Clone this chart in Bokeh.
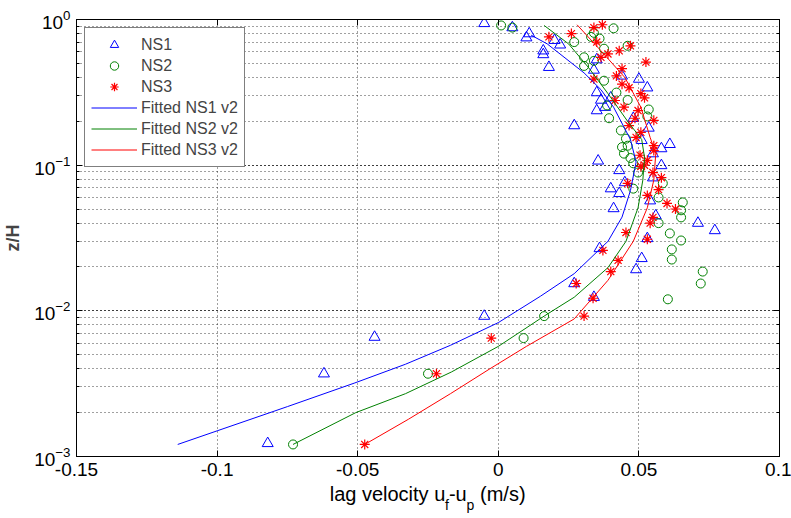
from bokeh.plotting import figure
from bokeh.models import (FixedTicker, LogTicker, LinearAxis, LogAxis, Legend, LegendItem,
                          Range1d, AllLabels)
from bokeh.embed import file_html
from bokeh.resources import INLINE

# ---------------- data ----------------
ns1_x = [-0.005, 0.005, 0.011, 0.010, 0.020, 0.022, 0.016, 0.016, 0.018, 0.035, 0.034, 0.050,
         0.053, 0.035, 0.040, 0.0365, 0.038, 0.035, 0.044, 0.048, 0.0535, 0.027, 0.051, 0.061,
         0.058, 0.055, 0.0355, 0.058, 0.043, 0.055, 0.045, 0.040, 0.043, 0.041, 0.054, 0.056,
         0.071, 0.077, 0.053, 0.036, 0.051, 0.049, 0.027, 0.034, -0.005, -0.044, -0.062, -0.082]
ns1_z = [0.94, 0.88, 0.80, 0.75, 0.72, 0.67, 0.61, 0.575, 0.47, 0.53, 0.45, 0.39,
         0.34, 0.315, 0.29, 0.28, 0.25, 0.237, 0.41, 0.21, 0.18, 0.187, 0.148, 0.139,
         0.130, 0.120, 0.107, 0.0995, 0.092, 0.082, 0.076, 0.069, 0.064, 0.0504, 0.057, 0.045,
         0.040, 0.0356, 0.0314, 0.0268, 0.0229, 0.0192, 0.0154, 0.0124, 0.0092, 0.0066, 0.0037, 0.00123]

ns2_x = [0.001, 0.005, 0.041, 0.034, 0.033, 0.036, 0.027, 0.046, 0.0376, 0.0305, 0.0305, 0.034,
         0.0376, 0.042, 0.046, 0.0387, 0.0535, 0.053, 0.0394, 0.0436, 0.0454, 0.044, 0.0447, 0.048,
         0.046, 0.047, 0.0497, 0.048, 0.0585, 0.057, 0.0656, 0.065, 0.065, 0.057, 0.061, 0.065,
         0.0617, 0.0617, 0.0727, 0.072, 0.0603, 0.0163, 0.009, -0.025, -0.073]
ns2_z = [0.91, 0.88, 0.87, 0.81, 0.76, 0.74, 0.70, 0.66, 0.63, 0.55, 0.48, 0.52,
         0.38, 0.315, 0.28, 0.257, 0.241, 0.216, 0.21, 0.173, 0.152, 0.133, 0.120, 0.103,
         0.136, 0.112, 0.089, 0.069, 0.075, 0.060, 0.0555, 0.049, 0.0438, 0.040, 0.034, 0.0304,
         0.0264, 0.0225, 0.0186, 0.0154, 0.012, 0.0092, 0.0065, 0.0037, 0.00121]

ns3_x = [0.037, 0.034, 0.026, 0.018, 0.035, 0.047, 0.043, 0.039, 0.0365, 0.0525, 0.044, 0.042,
         0.034, 0.044, 0.0465, 0.0507, 0.052, 0.0415, 0.0447, 0.0497, 0.0486, 0.0553, 0.0465, 0.0507,
         0.049, 0.0553, 0.0553, 0.0504, 0.052,
         0.053, 0.0507, 0.055, 0.058, 0.046, 0.057, 0.053, 0.060, 0.063, 0.055, 0.054, 0.0454,
         0.053, 0.0372, 0.0426, 0.040, 0.0277, 0.0337, 0.0305,
         -0.0025, -0.022, -0.0475]
ns3_z = [0.92, 0.88, 0.80, 0.76, 0.70, 0.66, 0.61, 0.58, 0.55, 0.51, 0.46, 0.41,
         0.39, 0.36, 0.34, 0.31, 0.29, 0.278, 0.25, 0.237, 0.21, 0.203, 0.187, 0.168,
         0.155, 0.136, 0.126, 0.117, 0.10,
         0.108, 0.098, 0.089, 0.082, 0.075, 0.068, 0.062, 0.0546, 0.050, 0.0438, 0.040, 0.0345,
         0.031, 0.026, 0.0222, 0.0186, 0.0154, 0.0122, 0.0092,
         0.0065, 0.0037, 0.00121]

fit1_x = [-0.114, -0.100, -0.075, -0.051, -0.033, -0.017, 0.000, 0.015, 0.027, 0.039, 0.044,
          0.047, 0.049, 0.047, 0.041, 0.0365, 0.0305, 0.0174, 0.0117]
fit1_z = [0.00121, 0.0015, 0.0022, 0.0032, 0.0043, 0.0058, 0.0083, 0.0126, 0.018, 0.030, 0.044,
          0.067, 0.105, 0.15, 0.25, 0.33, 0.43, 0.68, 0.78]

fit2_x = [-0.073, -0.0507, -0.033, -0.0167, 0.000, 0.0163, 0.027, 0.039, 0.0454, 0.0497, 0.0514,
          0.052, 0.051, 0.046, 0.039, 0.032, 0.025, 0.0163]
fit2_z = [0.00121, 0.002, 0.0027, 0.0038, 0.0057, 0.0092, 0.0124, 0.0198, 0.030, 0.051, 0.079,
          0.113, 0.15, 0.20, 0.31, 0.47, 0.68, 0.91]

fit3_x = [-0.0475, -0.032, -0.017, -0.003, 0.010, 0.027, 0.039, 0.048, 0.053, 0.0553, 0.056,
          0.054, 0.0507, 0.045, 0.0365, 0.028]
fit3_z = [0.00121, 0.0018, 0.0027, 0.0040, 0.0057, 0.0088, 0.0162, 0.030, 0.051, 0.079, 0.12,
          0.155, 0.25, 0.40, 0.61, 0.92]

x_ticks = [-0.15, -0.1, -0.05, 0.0, 0.05, 0.1]
x_tick_labels = ["-0.15", "-0.1", "-0.05", "0", "0.05", "0.1"]

# x-axis title pieces (main text and subscripts), anchored on the x scale
xlab_pos = [-0.0394, -0.0144, 0.0016]
xlab_txt = ["lag velocity u", "-u", "(m/s)"]
xsub_pos = [-0.0183, -0.0099]
xsub_txt = ["f", "p"]

BLUE = "#0000ff"
GREEN = "#008000"
RED = "#ff0000"
FONT = "Liberation Sans"

# ---------------- figure ----------------
p = figure(width=791, height=518, x_range=Range1d(-0.15, 0.1), y_range=Range1d(1e-3, 1),
           y_axis_type="log", output_backend="svg", toolbar_location=None,
           min_border_left=74, min_border_right=12, min_border_top=19, min_border_bottom=62)
p.outline_line_color = "black"
p.outline_line_width = 1
p.background_fill_color = "white"
p.border_fill_color = "white"

# axes
p.xaxis.ticker = FixedTicker(ticks=x_ticks)
p.xaxis.major_label_overrides = {t: s for t, s in zip(x_ticks, x_tick_labels)}
for ax in (p.xaxis[0], p.yaxis[0]):
    ax.axis_line_color = "black"
    ax.major_tick_in = 6
    ax.major_tick_out = 0
    ax.minor_tick_in = 3
    ax.minor_tick_out = 0
    ax.major_label_text_font = FONT
    ax.major_label_text_font_size = "19px"
    ax.major_label_text_color = "black"
    ax.major_tick_line_color = "black"
    ax.minor_tick_line_color = "black"
p.xaxis.minor_tick_line_color = None
p.xaxis.major_label_standoff = 6
p.yaxis.major_label_standoff = 6

p.yaxis.axis_label = "z/H"
p.yaxis.axis_label_text_font = FONT
p.yaxis.axis_label_text_font_size = "18px"
p.yaxis.axis_label_text_font_style = "bold"
p.yaxis.axis_label_standoff = 8

# x-axis title built from two label-only axes (main text + lowered subscripts)
lab_ax = LinearAxis(ticker=FixedTicker(ticks=xlab_pos),
                    major_label_overrides={t: s for t, s in zip(xlab_pos, xlab_txt)},
                    major_label_policy=AllLabels(),
                    major_tick_line_color=None, minor_tick_line_color=None,
                    axis_line_color=None, major_tick_out=0, major_tick_in=0,
                    major_label_standoff=4, major_label_text_font=FONT,
                    major_label_text_font_size="20px", major_label_text_color="black")
sub_ax = LinearAxis(ticker=FixedTicker(ticks=xsub_pos),
                    major_label_overrides={t: s for t, s in zip(xsub_pos, xsub_txt)},
                    major_label_policy=AllLabels(),
                    major_tick_line_color=None, minor_tick_line_color=None,
                    axis_line_color=None, major_tick_out=0, major_tick_in=0,
                    major_label_standoff=-11, major_label_text_font=FONT,
                    major_label_text_font_size="14px", major_label_text_color="black")
p.add_layout(lab_ax, "below")
p.add_layout(sub_ax, "below")

# mirrored ticks top/right
top_ax = LinearAxis(ticker=FixedTicker(ticks=x_ticks), major_tick_in=6, major_tick_out=0,
                    minor_tick_line_color=None, major_label_text_font_size="0px",
                    axis_line_color="black")
top_ax.major_label_text_color = None
right_ax = LogAxis(ticker=LogTicker(), major_tick_in=6, major_tick_out=0, minor_tick_in=3,
                   minor_tick_out=0, major_label_text_font_size="0px", axis_line_color="black")
right_ax.major_label_text_color = None
p.add_layout(top_ax, "above")
p.add_layout(right_ax, "right")

# grid
for g in (p.xgrid, p.ygrid):
    g.grid_line_color = "black"
    g.grid_line_alpha = 0.75
    g.grid_line_dash = "1 3"
p.ygrid.minor_grid_line_color = "black"
p.ygrid.minor_grid_line_alpha = 0.75
p.ygrid.minor_grid_line_dash = "1 3"

# ---------------- glyphs ----------------
r1 = p.scatter(ns1_x, ns1_z, marker="triangle", size=11, fill_color=None, line_color=BLUE,
               line_width=1)
r2 = p.scatter(ns2_x, ns2_z, marker="circle", size=9, fill_color=None, line_color=GREEN,
               line_width=1)
r3 = p.scatter(ns3_x, ns3_z, marker="asterisk", size=10, line_color=RED, line_width=1.2)
l1 = p.line(fit1_x, fit1_z, line_color=BLUE, line_width=1)
l2 = p.line(fit2_x, fit2_z, line_color=GREEN, line_width=1)
l3 = p.line(fit3_x, fit3_z, line_color=RED, line_width=1)

legend = Legend(items=[
    LegendItem(label="NS1", renderers=[r1]),
    LegendItem(label="NS2", renderers=[r2]),
    LegendItem(label="NS3", renderers=[r3]),
    LegendItem(label="Fitted NS1 v2", renderers=[l1]),
    LegendItem(label="Fitted NS2 v2", renderers=[l2]),
    LegendItem(label="Fitted NS3 v2", renderers=[l3]),
], location="top_left")
legend.margin = 8
legend.padding = 6
legend.spacing = 0
legend.glyph_width = 46
legend.glyph_height = 21
legend.label_height = 21
legend.label_standoff = 4
legend.label_text_font = FONT
legend.label_text_font_size = "16px"
legend.border_line_color = "black"
legend.border_line_width = 1
legend.background_fill_alpha = 1.0
p.add_layout(legend)

open("out.html", "w").write(file_html(p, INLINE))
